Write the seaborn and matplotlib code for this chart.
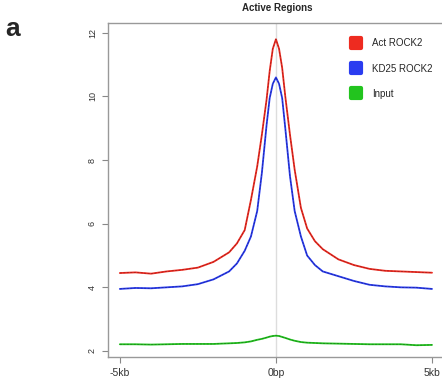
import numpy as np
import pandas as pd
import matplotlib
matplotlib.use("Agg")
import matplotlib.pyplot as plt
from matplotlib.markers import MarkerStyle
import seaborn as sns

# posicoes em kb relativas ao centro da regiao
pos = [-5, -4.5, -4, -3.5, -3, -2.5, -2, -1.5, -1.25, -1, -0.8, -0.6, -0.45, -0.3, -0.2, -0.1, 0,
       0.1, 0.2, 0.3, 0.45, 0.6, 0.8, 1, 1.25, 1.5, 2, 2.5, 3, 3.5, 4, 4.5, 5]

act_rock2 = [4.45, 4.47, 4.43, 4.5, 4.55, 4.62, 4.8, 5.1, 5.38, 5.8, 6.75, 7.8, 8.8, 9.9, 10.8, 11.5, 11.8,
             11.5, 10.9, 10.0, 8.8, 7.7, 6.5, 5.85, 5.45, 5.2, 4.88, 4.7, 4.58, 4.52, 4.5, 4.48, 4.46]
kd25_rock2 = [3.95, 3.98, 3.97, 4.0, 4.03, 4.1, 4.25, 4.5, 4.75, 5.15, 5.6, 6.4, 7.6, 9.1, 9.95, 10.4, 10.6,
              10.4, 9.95, 9.0, 7.5, 6.4, 5.6, 5.0, 4.7, 4.5, 4.35, 4.2, 4.08, 4.03, 4.0, 3.99, 3.95]
input_ctl = [2.21, 2.21, 2.2, 2.21, 2.22, 2.22, 2.22, 2.24, 2.25, 2.27, 2.3, 2.35, 2.38, 2.42, 2.45, 2.47, 2.48,
             2.47, 2.44, 2.41, 2.36, 2.32, 2.28, 2.26, 2.25, 2.24, 2.23, 2.22, 2.21, 2.21, 2.21, 2.18, 2.19]

series_names = ["Act ROCK2", "KD25 ROCK2", "Input"]
cores = ["#ee2b20", "#2a3cf0", "#22c41e"]
cores_escuras = ["#8a1a1a", "#1a2080", "#1a6a1a"]

xtick_pos = [-5, 0, 5]
xtick_labels = ["-5kb", "0bp", "5kb"]
ytick_pos = [2, 4, 6, 8, 10, 12]

df = pd.DataFrame({
    "pos": pos * 3,
    "valor": act_rock2 + kd25_rock2 + input_ctl,
    "amostra": sum([[n] * len(pos) for n in series_names], []),
})

sns.set_style("white")
plt.rcParams["font.family"] = ["Liberation Sans", "DejaVu Sans"]

fig = plt.figure(figsize=(4.42, 3.83), dpi=100)
ax = fig.add_axes([0.2443, 0.0679, 0.7557, 0.872])

ax.axvline(0, color="#dddddd", lw=1.0, zorder=0)

sns.lineplot(data=df, x="pos", y="valor", hue="amostra", palette=cores, lw=1.3, ax=ax, legend=False)
# linha tracejada escura por cima
sns.lineplot(data=df, x="pos", y="valor", hue="amostra", palette=cores_escuras, lw=0.5,
             linestyle=(0, (3, 2)), ax=ax, legend=False, alpha=0.8)

ax.set_xlim(-5.38, 5.32)
ax.set_ylim(1.81, 12.31)
ax.set_xticks(xtick_pos)
ax.set_xticklabels(xtick_labels, fontsize=7.5)
ax.set_yticks(ytick_pos)
ax.set_yticklabels([str(v) for v in ytick_pos], fontsize=6.5, rotation=90, va="center")
ax.tick_params(axis="both", direction="out", length=4, width=0.8, color="#888888", pad=4, labelcolor="#333333")
ax.tick_params(axis="x", bottom=True)
ax.tick_params(axis="y", left=True)
ax.set_xlabel("")
ax.set_ylabel("")

for lado in ["left", "bottom", "top"]:
    ax.spines[lado].set_color("#999999")
    ax.spines[lado].set_linewidth(1.0)
ax.spines["right"].set_visible(False)

# legenda com quadrados arredondados
marcador = MarkerStyle("s", joinstyle="round")
handles = [plt.Line2D([], [], marker=marcador, ls="", markersize=7, color=c, markeredgewidth=3,
                      markeredgecolor=c, markerfacecolor=c) for c in cores]
ax.legend(handles, series_names, loc="upper left", bbox_to_anchor=(0.705, 0.977), frameon=False,
          fontsize=7, handlelength=1.0, handletextpad=1.1, labelspacing=1.55, borderpad=0.3)

fig.text(0.627, 0.978, "Active Regions", ha="center", va="center", fontsize=7, fontweight="bold")
fig.text(0.012, 0.925, "a", ha="left", va="center", fontsize=19, fontweight="bold")

fig.savefig("out.png", dpi=100)
